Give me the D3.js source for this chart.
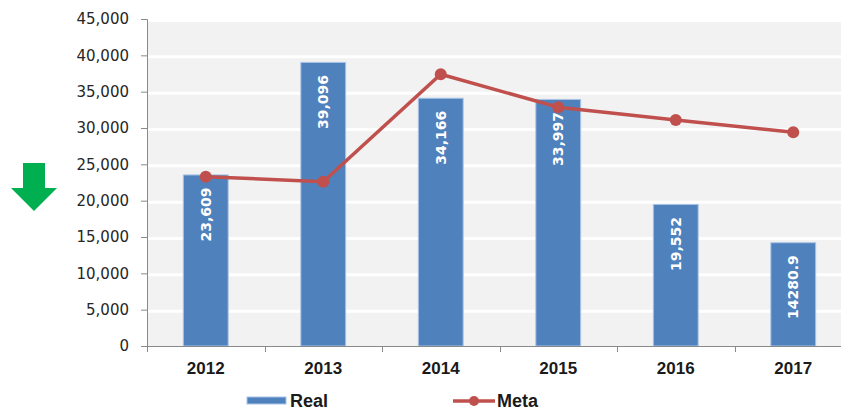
<!DOCTYPE html>
<html>
<head>
<meta charset="utf-8">
<script src="https://cdn.jsdelivr.net/npm/d3@7"></script>
<style>
  body { margin: 0; background: #fff; }
</style>
</head>
<body>
<div id="my_dataviz"></div>
<script>
// data
var years = ["2012", "2013", "2014", "2015", "2016", "2017"];
var realValues = [23609, 39096, 34166, 33997, 19552, 14280.9];
var realLabels = ["23,609", "39,096", "34,166", "33,997", "19,552", "14280.9"];
var metaValues = [23300, 22600, 37400, 32850, 31100, 29400];
var yTicks = [0, 5000, 10000, 15000, 20000, 25000, 30000, 35000, 40000, 45000];

var W = 841, H = 411;
var plotLeft = 147, plotTop = 19, plotBottom = 346, plotRight = 852;

var svg = d3
  .select("#my_dataviz")
  .append("svg")
  .attr("id", "svg")
  .attr("width", W)
  .attr("height", H);

var x = d3
  .scaleBand()
  .domain(years)
  .range([plotLeft, plotRight])
  .paddingInner(0.61)
  .paddingOuter(0.305);

var y = d3.scaleLinear().domain([0, 45000]).range([plotBottom, plotTop]);

// plot background
svg
  .append("rect")
  .attr("x", plotLeft + 1)
  .attr("y", plotTop)
  .attr("width", W - plotLeft)
  .attr("height", plotBottom - plotTop)
  .attr("fill", "#f2f2f2");

// white gridlines
svg
  .selectAll(".grid")
  .data(yTicks.slice(1))
  .enter()
  .append("line")
  .attr("class", "grid")
  .attr("x1", plotLeft + 1)
  .attr("x2", W)
  .attr("y1", function (d) { return y(d) + 1.5; })
  .attr("y2", function (d) { return y(d) + 1.5; })
  .attr("stroke", "#fff")
  .attr("stroke-width", 3);

// Y axis
var yAxis = svg
  .append("g")
  .attr("transform", "translate(" + plotLeft + ",0)")
  .call(
    d3.axisLeft(y)
      .tickValues(yTicks)
      .tickSize(6)
      .tickPadding(12)
      .tickFormat(d3.format(","))
  );
yAxis.select(".domain").attr("stroke", "#898989");
yAxis.selectAll(".tick line").attr("stroke", "#898989");
yAxis
  .selectAll("text")
  .attr("fill", "#262626")
  .style("font-family", "DejaVu Sans")
  .style("font-size", "15px");

// bars
svg
  .selectAll(".bar")
  .data(realValues)
  .enter()
  .append("rect")
  .attr("class", "bar")
  .attr("x", function (d, i) { return x(years[i]) + 0.5; })
  .attr("y", function (d) { return y(d) + 0.5; })
  .attr("width", x.bandwidth() - 1)
  .attr("height", function (d) { return plotBottom - y(d) - 0.5; })
  .attr("fill", "#4f81bd")
  .attr("stroke", "#a9c4e6")
  .attr("stroke-width", 1);

// bar labels
svg
  .selectAll(".barLabel")
  .data(realValues)
  .enter()
  .append("text")
  .attr("class", "barLabel")
  .attr("transform", function (d, i) {
    var cx = x(years[i]) + x.bandwidth() / 2;
    return "translate(" + (cx + 5) + "," + (y(d) + 13) + ")rotate(-90)";
  })
  .attr("text-anchor", "end")
  .attr("fill", "#fff")
  .style("font-family", "DejaVu Sans")
  .style("font-weight", "bold")
  .style("font-size", "14px")
  .text(function (d, i) { return realLabels[i]; });

// X axis
var boundaries = d3.range(years.length + 1).map(function (i) {
  return plotLeft + i * x.step();
});
svg
  .append("line")
  .attr("x1", plotLeft)
  .attr("x2", W)
  .attr("y1", plotBottom + 0.5)
  .attr("y2", plotBottom + 0.5)
  .attr("stroke", "#898989");
svg
  .selectAll(".xtick")
  .data(boundaries)
  .enter()
  .append("line")
  .attr("class", "xtick")
  .attr("x1", function (d) { return Math.round(d) + 0.5; })
  .attr("x2", function (d) { return Math.round(d) + 0.5; })
  .attr("y1", plotBottom)
  .attr("y2", plotBottom + 6)
  .attr("stroke", "#898989");
svg
  .selectAll(".xlabel")
  .data(years)
  .enter()
  .append("text")
  .attr("class", "xlabel")
  .attr("x", function (d) { return x(d) + x.bandwidth() / 2; })
  .attr("y", 374)
  .attr("text-anchor", "middle")
  .attr("fill", "#1a1a1a")
  .style("font-family", "Liberation Sans")
  .style("font-weight", "bold")
  .style("font-size", "17px")
  .text(function (d) { return d; });

// Meta line
var line = d3
  .line()
  .x(function (d, i) { return x(years[i]) + x.bandwidth() / 2; })
  .y(function (d) { return y(d); });

svg
  .append("path")
  .datum(metaValues)
  .attr("d", line)
  .attr("fill", "none")
  .attr("stroke", "#c0504d")
  .attr("stroke-width", 3.5);

svg
  .selectAll(".dot")
  .data(metaValues)
  .enter()
  .append("circle")
  .attr("class", "dot")
  .attr("cx", function (d, i) { return x(years[i]) + x.bandwidth() / 2; })
  .attr("cy", function (d) { return y(d); })
  .attr("r", 6)
  .attr("fill", "#c0504d");

// legend
var legend = svg.append("g");
legend
  .append("rect")
  .attr("x", 247)
  .attr("y", 397)
  .attr("width", 39)
  .attr("height", 7)
  .attr("fill", "#4f81bd")
  .attr("stroke", "#a9c4e6");
legend
  .append("text")
  .attr("x", 290)
  .attr("y", 407)
  .attr("fill", "#1a1a1a")
  .style("font-family", "Liberation Sans")
  .style("font-weight", "bold")
  .style("font-size", "18px")
  .text("Real");
legend
  .append("line")
  .attr("x1", 453)
  .attr("x2", 495)
  .attr("y1", 401)
  .attr("y2", 401)
  .attr("stroke", "#c0504d")
  .attr("stroke-width", 3.5);
legend
  .append("circle")
  .attr("cx", 474)
  .attr("cy", 401)
  .attr("r", 5)
  .attr("fill", "#c0504d");
legend
  .append("text")
  .attr("x", 497)
  .attr("y", 407)
  .attr("fill", "#1a1a1a")
  .style("font-family", "Liberation Sans")
  .style("font-weight", "bold")
  .style("font-size", "18px")
  .text("Meta");

// green down arrow
svg
  .append("path")
  .attr("d", "M23,163 L45,163 L45,188 L57,188 L34,211 L11,188 L23,188 Z")
  .attr("fill", "#00b050");
</script>
</body>
</html>
